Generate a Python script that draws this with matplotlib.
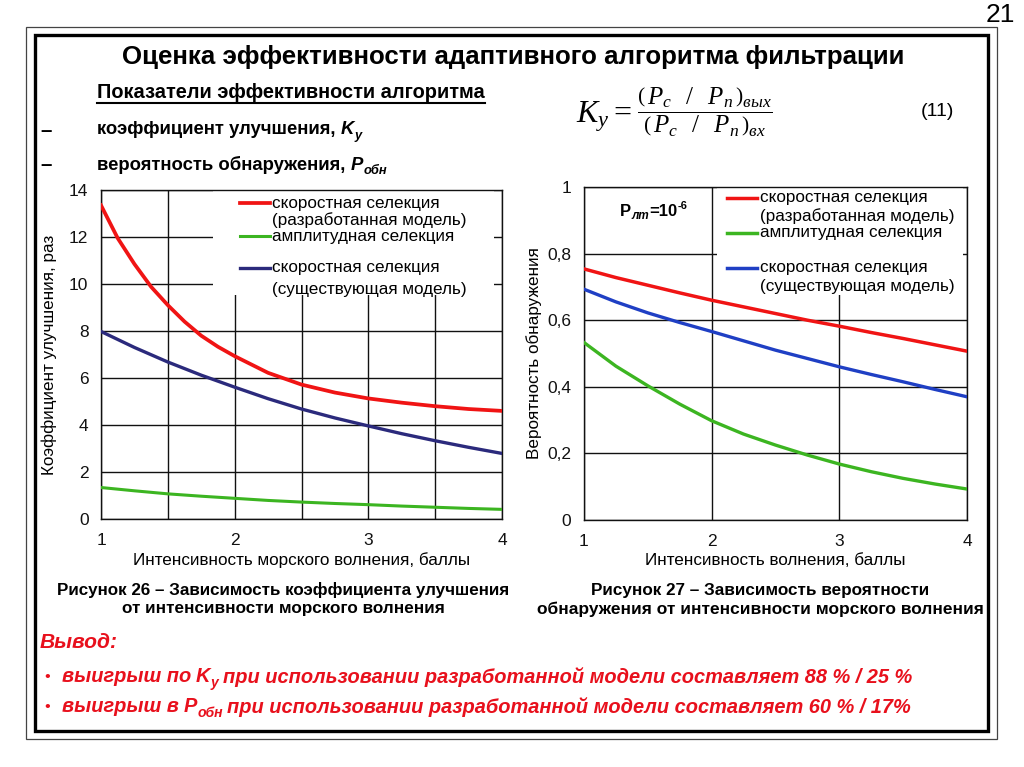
import matplotlib
matplotlib.use('Agg')
import matplotlib.pyplot as plt
from matplotlib.patches import Rectangle
from matplotlib.ticker import FixedLocator

# ---------------- data ----------------
x_vals = [1, 1.25, 1.5, 1.75, 2, 2.25, 2.5, 2.75, 3, 3.25, 3.5, 3.75, 4]
x_red_left = [1, 1.125, 1.25, 1.375, 1.5, 1.625, 1.75, 1.875, 2, 2.25, 2.5, 2.75, 3, 3.25, 3.5, 3.75, 4]

ky_speed_new = [13.35, 11.95, 10.85, 9.88, 9.1, 8.4, 7.8, 7.33, 6.93, 6.22, 5.72, 5.38, 5.13, 4.95, 4.8, 4.68, 4.6]
ky_amplitude = [1.34, 1.2, 1.07, 0.97, 0.88, 0.79, 0.72, 0.66, 0.61, 0.55, 0.5, 0.45, 0.41]
ky_speed_old = [7.98, 7.3, 6.68, 6.12, 5.61, 5.12, 4.68, 4.3, 3.96, 3.63, 3.33, 3.05, 2.79]

pd_speed_new = [0.754, 0.728, 0.705, 0.682, 0.66, 0.64, 0.62, 0.6, 0.582, 0.563, 0.545, 0.526, 0.507]
pd_amplitude = [0.533, 0.462, 0.403, 0.348, 0.298, 0.258, 0.225, 0.195, 0.168, 0.145, 0.125, 0.108, 0.093]
pd_speed_old = [0.693, 0.655, 0.622, 0.593, 0.566, 0.538, 0.51, 0.485, 0.46, 0.437, 0.415, 0.392, 0.37]

x_ticks = [1, 2, 3, 4]
ky_ticks = [0, 2, 4, 6, 8, 10, 12, 14]
pd_ticks = [0, 0.2, 0.4, 0.6, 0.8, 1.0]
pd_tick_labels = ['0', '0,2', '0,4', '0,6', '0,8', '1']

legend_lines = ['скоростная селекция', '(разработанная модель)',
                'амплитудная селекция',
                'скоростная селекция', '(существующая модель)']

RED = '#f01414'
GREEN = '#3cb521'
NAVY = '#2b2a7c'
BLUE = '#1f3fc4'
TXT_RED = '#e8101c'

# ---------------- fonts ----------------
plt.rcParams['font.family'] = ['Liberation Sans', 'DejaVu Sans']
plt.rcParams['mathtext.fontset'] = 'custom'
plt.rcParams['mathtext.rm'] = 'Liberation Serif'
plt.rcParams['mathtext.it'] = 'Liberation Serif:italic'
plt.rcParams['mathtext.bf'] = 'Liberation Serif:bold'
NARROW = ['Liberation Sans', 'DejaVu Sans']

fig = plt.figure(figsize=(10.24, 7.67), dpi=100)
fig.patch.set_facecolor('white')
renderer = fig.canvas.get_renderer()

bg = fig.add_axes([0, 0, 1, 1], zorder=-1)
bg.set_xlim(0, 1024)
bg.set_ylim(767, 0)
bg.axis('off')


def fit(t, width):
    w = t.get_window_extent(renderer).width
    t.set_fontsize(t.get_fontsize() * width / w)
    return t


def after(prev, s, dx=0, dy=0, **kw):
    return bg.annotate(s, xy=(1, 0.5), xycoords=prev, xytext=(dx, dy),
                       textcoords='offset points', ha='left', va='center', **kw)


# frame
bg.add_patch(Rectangle((26, 27), 971, 712, fill=False, lw=0.9, ec='#444444'))
bg.add_patch(Rectangle((35, 35), 953, 696, fill=False, lw=2.4, ec='black'))

bg.text(1015, 15, '21', ha='right', va='center', fontsize=19, family=NARROW)

t = bg.text(513, 57, 'Оценка эффективности адаптивного алгоритма фильтрации',
            ha='center', va='center', fontsize=21, weight='bold', family=NARROW)
fit(t, 783)

t = bg.text(97, 92, 'Показатели эффективности алгоритма', ha='left', va='center',
            fontsize=16, weight='bold', family=NARROW)
fit(t, 388)
bg.plot([97, 485], [103, 103], color='black', lw=1.5)

t = bg.text(97, 130, 'коэффициент улучшения,', ha='left', va='center',
            fontsize=15, weight='bold', family=NARROW)
fit(t, 241)
bfs = t.get_fontsize()
bg.text(40, 130, '–', ha='left', va='center', fontsize=bfs * 1.1, weight='bold', family=NARROW)
k = after(t, 'K', 4, 0, fontsize=bfs, weight='bold', style='italic', family=NARROW)
after(k, 'у', 0.3, -4, fontsize=bfs * 0.7, weight='bold', style='italic', family=NARROW)

bg.text(40, 165, '–', ha='left', va='center', fontsize=bfs * 1.1, weight='bold', family=NARROW)
t = bg.text(97, 165, 'вероятность обнаружения,', ha='left', va='center',
            fontsize=bfs, weight='bold', family=NARROW)
k = after(t, 'P', 4, 0, fontsize=bfs, weight='bold', style='italic', family=NARROW)
after(k, 'обн', 0.3, -4, fontsize=bfs * 0.7, weight='bold', style='italic', family=NARROW)

# formula (11)
kf = bg.text(576, 117, r'$K_{у}=$', ha='left', va='center', fontsize=23)
bg.annotate(r'$\dfrac{\left(\,P_{c}\;\;\;/\;\;\;P_{п}\,\right)_{вых}}{\left(\,P_{c}\;\;\;/\;\;\;P_{п}\,\right)_{вх}}$',
            xy=(1, 0.5), xycoords=kf, xytext=(4, 3), textcoords='offset points',
            ha='left', va='center', fontsize=18)
bg.text(937, 112, '(11)', ha='center', va='center', fontsize=14, family=NARROW)

# captions
cfs = 14
for (x, y, s, w) in [(283, 590, 'Рисунок 26 – Зависимость коэффициента улучшения', 454),
                     (283, 609, 'от интенсивности морского волнения', 323),
                     (760, 590, 'Рисунок 27 – Зависимость вероятности', 338),
                     (760, 609, 'обнаружения от интенсивности морского волнения', 446)]:
    t = bg.text(x, y, s, ha='center', va='center', fontsize=cfs, weight='bold', family=NARROW)
    fit(t, w)

# conclusion
rfs = 14.4
kw_red = dict(color=TXT_RED, weight='bold', style='italic', family=NARROW)
t = bg.text(40, 643, 'Вывод:', ha='left', va='center', fontsize=17, **kw_red)
fit(t, 78)
bg.text(44, 677, '•', ha='left', va='center', fontsize=11, **kw_red)
t = bg.text(62, 677, 'выигрыш по', ha='left', va='center', fontsize=rfs, **kw_red)
k = after(t, 'K', 3.5, 0, fontsize=rfs, **kw_red)
s = after(k, 'у', 0.3, -4, fontsize=rfs * 0.7, **kw_red)
after(s, 'при использовании разработанной модели составляет 88 % / 25 %', 3, 4, fontsize=rfs, **kw_red)
bg.text(44, 707, '•', ha='left', va='center', fontsize=11, **kw_red)
t = bg.text(62, 707, 'выигрыш в', ha='left', va='center', fontsize=rfs, **kw_red)
k = after(t, 'P', 3.5, 0, fontsize=rfs, **kw_red)
s = after(k, 'обн', 0.3, -4, fontsize=rfs * 0.7, **kw_red)
after(s, 'при использовании разработанной модели составляет 60 % / 17%', 3, 4, fontsize=rfs, **kw_red)

# ---------------- charts ----------------
axL = fig.add_axes([101 / 1024, 1 - 519 / 767, 401 / 1024, 329 / 767])
axR = fig.add_axes([584 / 1024, 1 - 520 / 767, 383 / 1024, 333 / 767])

LFS = 12.3
for ax in (axL, axR):
    ax.set_axisbelow(True)
    for sp in ax.spines.values():
        sp.set_linewidth(1.0)
        sp.set_color('#111111')
    ax.tick_params(axis='both', which='both', length=0, labelsize=12.5, colors='#111111')
    ax.tick_params(axis='x', pad=10)
    ax.set_xlim(1, 4)
    ax.set_xticks(x_ticks)

# left chart
axL.tick_params(axis='y', pad=9)
axL.set_ylim(0, 14)
axL.set_yticks(ky_ticks)
axL.xaxis.set_minor_locator(FixedLocator([1.5, 2.5, 3.5]))
axL.grid(True, axis='x', which='both', color='#111111', lw=1.0)
axL.grid(True, axis='y', which='major', color='#111111', lw=1.0)
axL.add_patch(Rectangle((0.28, 0.681), 0.70, 0.319, transform=axL.transAxes,
                        fc='white', ec='none', zorder=1))
axL.plot(x_red_left, ky_speed_new, color=RED, lw=2.7, zorder=3)
axL.plot(x_vals, ky_amplitude, color=GREEN, lw=2.2, zorder=3)
axL.plot(x_vals, ky_speed_old, color=NAVY, lw=2.4, zorder=3)
axL.set_xlabel('Интенсивность морского волнения, баллы', fontsize=LFS, labelpad=3)
axL.set_ylabel('Коэффициент улучшения, раз', fontsize=LFS, labelpad=9)

rowsL = [0.960, 0.908, 0.860, 0.763, 0.699]
for (col, lw, y) in [(RED, 2.7, rowsL[0]), (GREEN, 2.2, rowsL[2]), (NAVY, 2.4, rowsL[3])]:
    axL.plot([0.347, 0.421], [y, y], transform=axL.transAxes, color=col, lw=lw, zorder=3)
for s, y in zip(legend_lines, rowsL):
    axL.text(0.426, y, s, transform=axL.transAxes, ha='left', va='center', fontsize=LFS, zorder=4)

# right chart
axR.tick_params(axis='y', pad=9)
axR.set_ylim(0, 1)
axR.set_yticks(pd_ticks)
axR.set_yticklabels(pd_tick_labels)
axR.grid(True, color='#111111', lw=1.0)
axR.add_patch(Rectangle((0.347, 0.675), 0.643, 0.325, transform=axR.transAxes,
                        fc='white', ec='none', zorder=1))
axR.plot(x_vals, pd_speed_new, color=RED, lw=2.5, zorder=3)
axR.plot(x_vals, pd_amplitude, color=GREEN, lw=2.4, zorder=3)
axR.plot(x_vals, pd_speed_old, color=BLUE, lw=2.4, zorder=3)
axR.set_xlabel('Интенсивность волнения, баллы', fontsize=LFS, labelpad=3)
axR.set_ylabel('Вероятность обнаружения', fontsize=LFS, labelpad=4)

rowsR = [0.967, 0.913, 0.862, 0.757, 0.700]
for (col, y) in [(RED, rowsR[0]), (GREEN, rowsR[2]), (BLUE, rowsR[3])]:
    axR.plot([0.373, 0.452], [y, y], transform=axR.transAxes, color=col, lw=2.5, zorder=3)
for s, y in zip(legend_lines, rowsR):
    axR.text(0.46, y, s, transform=axR.transAxes, ha='left', va='center', fontsize=LFS, zorder=4)

p = axR.text(0.094, 0.925, 'P', transform=axR.transAxes, ha='left', va='center',
             fontsize=12, weight='bold')
sub = axR.annotate('лт', xy=(1, 0.5), xycoords=p, xytext=(0.3, -3), textcoords='offset points',
                   ha='left', va='center', fontsize=8.5, weight='bold', style='italic')
eq = axR.annotate('=10', xy=(1, 0.5), xycoords=sub, xytext=(0, 3), textcoords='offset points',
                  ha='left', va='center', fontsize=12, weight='bold')
axR.annotate('-6', xy=(1, 0.5), xycoords=eq, xytext=(0.3, 4), textcoords='offset points',
             ha='left', va='center', fontsize=8, weight='bold')

fig.savefig('out.png', dpi=100, facecolor='white')
